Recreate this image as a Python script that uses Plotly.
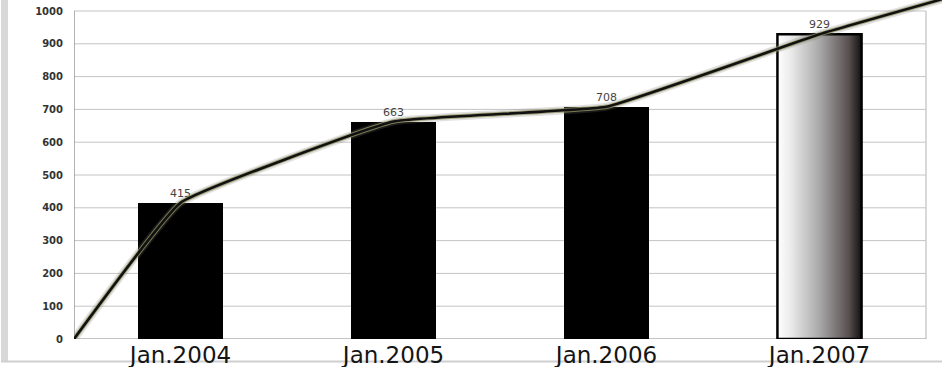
import plotly.graph_objects as go

# ---- data ----
categories = ["Jan.2004", "Jan.2005", "Jan.2006", "Jan.2007"]
values = [415, 663, 708, 929]
trend_start = 0        # line starts at the left edge of the plot
trend_end = 1045       # line leaves the picture at the top right
y_ticks = [0, 100, 200, 300, 400, 500, 600, 700, 800, 900, 1000]

# ---- layout constants ----
W, H = 942, 367
ML, MR, MT, MB = 74, 0, 0, 28
PW, PH = W - ML - MR, H - MT - MB
CAT_PX = 213.0
X0 = -0.5
X1 = X0 + PW / CAT_PX
PX_PER_UNIT = 0.328
Y1 = PH / PX_PER_UNIT
BAR_W = 0.395
n = len(categories)
xs = list(range(n))
xr = n - 0.5

def px_x(p):
    return (p - ML) / PW

def px_y(p):
    return (MT + PH - p) / PH

fig = go.Figure()

# bars (last bar transparent: gradient drawn separately)
bar_colors = ["#000000"] * (n - 1) + ["rgba(0,0,0,0)"]
fig.add_trace(go.Bar(
    x=xs, y=values, width=BAR_W,
    marker=dict(color=bar_colors, line=dict(width=0)),
    text=[str(v) for v in values], textposition="outside",
    textfont=dict(family="DejaVu Sans", size=11, color="#444444"),
    cliponaxis=False, showlegend=False, hoverinfo="skip",
))

# gradient bar for the last category
xi, vi = xs[-1], values[-1]
fig.add_trace(go.Scatter(
    x=[xi - BAR_W / 2, xi + BAR_W / 2, xi + BAR_W / 2, xi - BAR_W / 2, xi - BAR_W / 2],
    y=[0, 0, vi, vi, 0],
    mode="lines", fill="toself",
    fillgradient=dict(type="horizontal",
                      colorscale=[[0, "#ffffff"], [0.15, "#ececec"], [0.5, "#a9a9a9"],
                                  [0.85, "#584f4f"], [1, "#111111"]]),
    line=dict(color="#000000", width=2.5),
    showlegend=False, hoverinfo="skip",
))

# trend line (soft halo + dark core)
tx = [X0] + xs + [X1 + 0.05]
ty = [trend_start] + values + [trend_end]
fig.add_trace(go.Scatter(x=tx, y=ty, mode="lines",
                         line=dict(color="rgba(120,120,110,0.22)", width=8, shape="spline", smoothing=0.3),
                         showlegend=False, hoverinfo="skip"))
fig.add_trace(go.Scatter(x=tx, y=ty, mode="lines",
                         line=dict(color="rgba(150,150,105,0.8)", width=4.5, shape="spline", smoothing=0.3),
                         showlegend=False, hoverinfo="skip"))
fig.add_trace(go.Scatter(x=tx, y=ty, mode="lines",
                         line=dict(color="#111111", width=2.6, shape="spline", smoothing=0.3),
                         showlegend=False, hoverinfo="skip"))

shapes = []
# gridlines
for t in y_ticks[1:]:
    shapes.append(dict(type="line", xref="x", yref="y", x0=X0, x1=xr, y0=t, y1=t,
                       line=dict(color="#c4c4c4", width=1), layer="below"))
# frame
shapes.append(dict(type="line", xref="x", yref="y", x0=xr, x1=xr, y0=0, y1=y_ticks[-1],
                   line=dict(color="#cccccc", width=1.5), layer="below"))
shapes.append(dict(type="line", xref="x", yref="y", x0=X0, x1=xr, y0=0, y1=0,
                   line=dict(color="#b0b0b0", width=1.5), layer="below"))
shapes.append(dict(type="line", xref="x", yref="y", x0=X0, x1=X0, y0=0, y1=y_ticks[-1],
                   line=dict(color="#9a9a9a", width=1.5), layer="below"))
# outer picture border
shapes.append(dict(type="rect", xref="paper", yref="paper",
                   x0=px_x(1), x1=px_x(8), y0=px_y(361), y1=px_y(0),
                   fillcolor="#d8d8d8", line=dict(width=0), layer="below"))
shapes.append(dict(type="line", xref="paper", yref="paper",
                   x0=px_x(1), x1=px_x(942), y0=px_y(361.5), y1=px_y(361.5),
                   line=dict(color="#cfcfcf", width=2), layer="below"))

fig.update_layout(
    width=W, height=H,
    margin=dict(l=ML, r=MR, t=MT, b=MB, pad=0),
    plot_bgcolor="white", paper_bgcolor="white",
    shapes=shapes, bargap=0,
    xaxis=dict(range=[X0, X1], tickvals=xs, ticktext=categories,
               showgrid=False, zeroline=False, showline=False, ticks="",
               tickfont=dict(family="DejaVu Sans", size=23, color="#151515"),
               ticklabelstandoff=0),
    yaxis=dict(range=[0, Y1], tickvals=y_ticks, ticktext=[str(t) for t in y_ticks],
               showgrid=False, zeroline=False, showline=False, ticks="",
               tickfont=dict(family="DejaVu Sans", size=10, color="#333333", weight="bold"),
               ticklabelstandoff=10),
)

fig.write_html("out.html")
